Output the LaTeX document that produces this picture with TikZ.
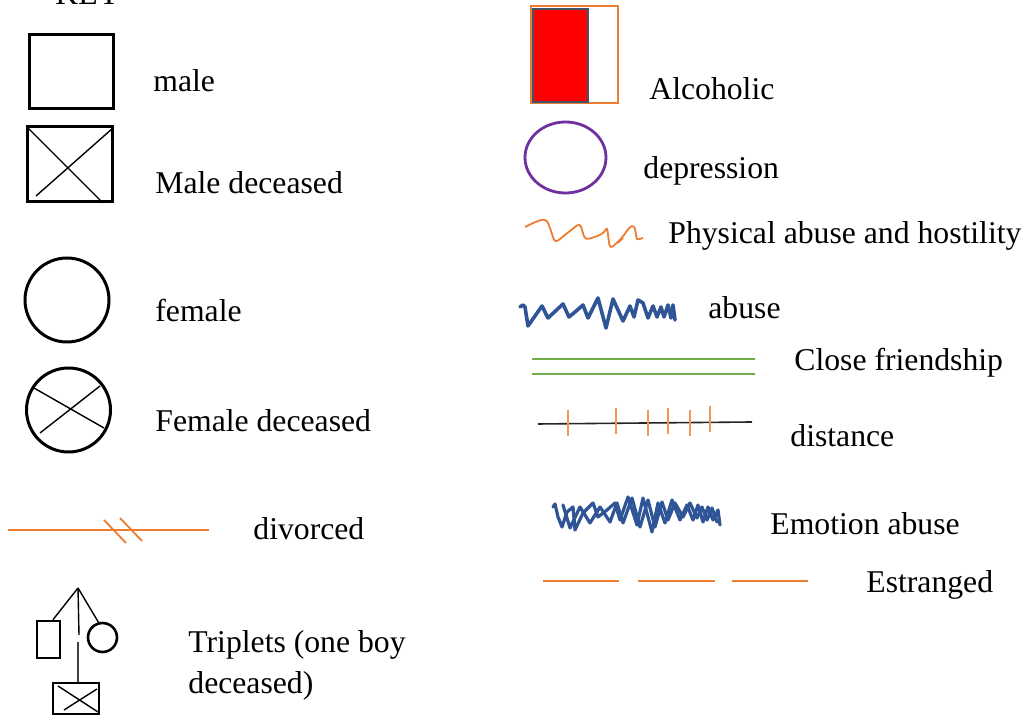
\documentclass[tikz,border=0pt]{standalone}
\usepackage{fontspec}
\setmainfont{Liberation Serif}
\definecolor{orng}{HTML}{ED7D31}
\definecolor{dblue}{HTML}{2F5597}
\definecolor{grn}{HTML}{70AD47}
\definecolor{purp}{HTML}{7030A0}
\definecolor{slate}{HTML}{44546A}
\begin{document}
\begin{tikzpicture}[x=0.5pt,y=-0.5pt,
  lbl/.style={anchor=base west,inner sep=0pt,font=\fontsize{15.85}{18}\selectfont},
  blk/.style={draw=black,line width=1.5pt,inner sep=0pt},
  crossln/.style={draw=black,line width=0.7pt},
  orln/.style={draw=orng,line width=1pt},
  blzig/.style={draw=dblue,line width=1.8pt,line join=round,line cap=round}]
\useasboundingbox (0,0) rectangle (1025,715);
\fill[white] (0,0) rectangle (1025,715);

% KEY title (cut off at top, as in the reference)
\node[lbl] (key) at (55,5) {KEY};

% male
\node[blk,rectangle,minimum width=42pt,minimum height=37pt] (male) at (71,72) {};
\node[lbl] (tmale) at (153,92) {male};

% male deceased
\node[blk,rectangle,minimum width=42.5pt,minimum height=37.5pt] (maled) at (69.5,164.5) {};
\draw[crossln] (28,128) -- (103,203);
\draw[crossln] (36,196) -- (113,128);
\node[lbl] (tmaled) at (155,194) {Male deceased};

% female
\node[blk,circle,minimum size=42pt] (female) at (67,300) {};
\node[lbl] (tfemale) at (155,322) {female};

% female deceased
\node[blk,circle,minimum size=42pt] (femaled) at (68.5,410) {};
\draw[crossln] (34,388) -- (104,428);
\draw[crossln] (40,433) -- (100,386);
\node[lbl] (tfemaled) at (155,432) {Female deceased};

% divorced
\draw[orln] (8,530) -- (209,530);
\draw[orln,line width=0.9pt] (104,520) -- (126,543);
\draw[orln,line width=0.9pt] (120,518) -- (142,541);
\node[lbl] (tdiv) at (253,540) {divorced};

% triplets
\coordinate (apex) at (78,588);
\node[blk,rectangle,line width=1.3pt,minimum width=11.5pt,minimum height=18.5pt] (tl) at (48.5,639.5) {};
\node[blk,circle,line width=1.3pt,minimum size=14.5pt] (tc) at (102.5,637.5) {};
\node[blk,rectangle,line width=1.3pt,minimum width=23pt,minimum height=15.5pt] (bb) at (76,698.5) {};
\coordinate (m1) at (79,635);
\coordinate (m2) at (78,642);
\draw[line width=0.7pt] (apex) -- ([xshift=2.25pt]tl.north);
\draw[line width=0.7pt] (apex) -- (tc.105);
\draw[line width=0.7pt] (apex) -- (m1);
\draw[line width=1pt,black!75] (m2) -- ([xshift=1pt]bb.north);
\draw[crossln] (58,686) -- (98,712);
\draw[crossln] (64,710) -- (97,689);
\node[lbl] (ttrip1) at (188,653) {Triplets (one boy};
\node[lbl] (ttrip2) at (188,694) {deceased)};

% alcoholic
\draw[orng,line width=1pt] (531,6) rectangle (618,103);
\draw[fill=red,draw=slate,line width=1.3pt] (533,9) rectangle (588,102);
\node[lbl] (talc) at (649,100) {Alcoholic};

% depression
\draw[purp,line width=1.4pt] (565.5,157.5) ellipse[x radius=40.5,y radius=35.5];
\node[lbl] (tdep) at (643,179) {depression};

% physical abuse and hostility
\draw[orng,line width=0.9pt,line join=round,rounded corners=2pt]
  (525,227) .. controls (535,222) and (545,217) .. (549,225) -- (555,243) -- (580,223)
  -- (585,240) -- (601,235) .. controls (606,230) and (607,226) .. (608,235) -- (610,249)
  -- (622,238) .. controls (630,226) and (634,222) .. (636,235) .. controls (637,240) and (640,239) .. (643,238);
\draw[orng,line width=0.8pt] (618,243) -- (623,238);
\node[lbl] (tphys) at (668,244) {Physical abuse and hostility};

% abuse
\draw[blzig] (520,307) -- (523,305) -- (525,307) -- (528,326) -- (542,306) -- (548,318)
  -- (563,304) -- (569,317) -- (575,312) -- (583,305) -- (588,318) -- (598,298)
  -- (606,328) -- (613,299) -- (623,321) -- (630,306) -- (634,317) -- (638,300)
  -- (643,303) -- (648,318) -- (653,306) -- (657,317) -- (661,307) -- (664,317)
  -- (668,305) -- (671,318) -- (673,305) -- (675,320);
\node[lbl] (tabuse) at (708,319) {abuse};

% close friendship
\draw[grn,line width=0.8pt] (532,359) -- (755,359);
\draw[grn,line width=0.8pt] (532,374) -- (755,374);
\node[lbl] (tclose) at (794,371) {Close friendship};

% distance
\draw[black!85,line width=0.8pt] (538,424) -- (752,422);
\foreach \xx/\ya/\yb in {568/410/436,616/408/434,648/410/436,668/408/434,690/410/436,710/406/432}
  \draw[orng!80,line width=1pt] (\xx,\ya) -- (\xx,\yb);
\node[lbl] (tdist) at (790,447) {distance};

% emotion abuse
\draw[blzig,line width=1.6pt] (553,507) -- (555,504) -- (558,517) -- (562,527) -- (567,512)
  -- (573,507) -- (575,530) -- (583,513) -- (593,503) -- (598,517) -- (607,510)
  -- (615,503) -- (620,520) -- (628,497) -- (637,525) -- (643,498) -- (652,532)
  -- (658,503) -- (665,523) -- (672,500) -- (680,520) -- (687,505) -- (693,520)
  -- (698,505) -- (703,522) -- (708,507) -- (713,520) -- (718,510) -- (720,525);
\draw[blzig,line width=1.6pt] (563,505) -- (570,528) -- (580,507) -- (590,523) -- (600,507)
  -- (610,522) -- (617,503) -- (623,523) -- (632,498) -- (640,527) -- (648,500)
  -- (655,527) -- (662,502) -- (668,520) -- (675,503) -- (683,517) -- (690,503)
  -- (697,518) -- (702,507) -- (707,520) -- (712,508) -- (717,522);
\node[lbl] (temo) at (770,535) {Emotion abuse};

% estranged
\draw[orln] (543,581) -- (619,581);
\draw[orln] (638,581) -- (715,581);
\draw[orln] (732,581) -- (808,581);
\node[lbl] (testr) at (866,593) {Estranged};
\end{tikzpicture}
\end{document}
